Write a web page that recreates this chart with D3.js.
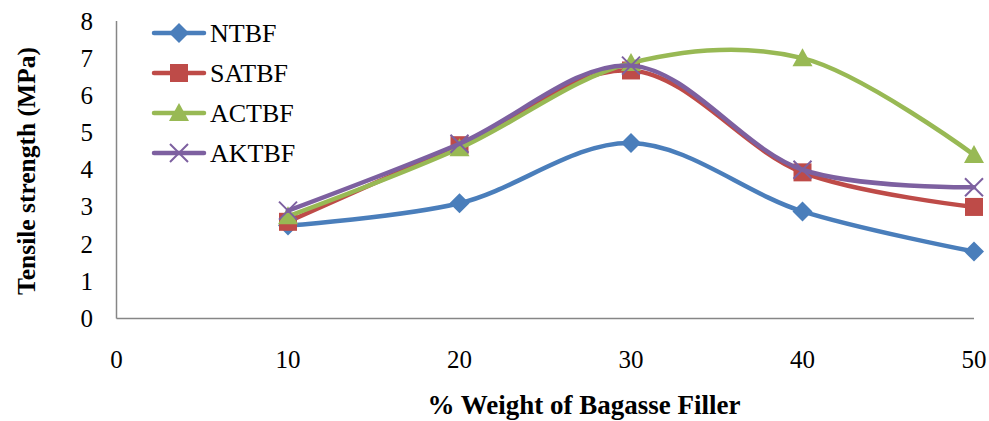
<!DOCTYPE html>
<html>
<head>
<meta charset="utf-8">
<script src="https://cdn.jsdelivr.net/npm/d3@7"></script>
<style>
  body { margin: 0; background: #fff; }
</style>
</head>
<body>
<div id="container"></div>
<script>
var width = 989,
    height = 421;

// data
var weights = [10, 20, 30, 40, 50];
var seriesNames = ["NTBF", "SATBF", "ACTBF", "AKTBF"];
var ntbf = [2.5, 3.1, 4.72, 2.88, 1.8];
var satbf = [2.6, 4.66, 6.67, 3.93, 3.0];
var actbf = [2.75, 4.58, 6.87, 7.0, 4.4];
var aktbf = [2.9, 4.7, 6.8, 4.0, 3.53];
var xTicks = [0, 10, 20, 30, 40, 50];
var yTicks = [0, 1, 2, 3, 4, 5, 6, 7, 8];

var colors = ["#4A7EBB", "#BE4B48", "#98B954", "#7D60A0"];
var markers = ["diamond", "square", "triangle", "cross"];
var allValues = [ntbf, satbf, actbf, aktbf];
var serif = "'Liberation Serif', 'Times New Roman', Times, serif";

var svg = d3.select("#container")
    .append("svg")
    .attr("width", width)
    .attr("height", height)
    .style("font-family", serif);

var x = d3.scaleLinear().domain([0, 50]).range([116.5, 974]);
var y = d3.scaleLinear().domain([0, 8]).range([318.5, 21]);

// axes lines
svg.append("line")
    .attr("x1", x(0)).attr("x2", x(0))
    .attr("y1", y(8)).attr("y2", y(0))
    .attr("stroke", "#868686").attr("stroke-width", 1.5);
svg.append("line")
    .attr("x1", x(0)).attr("x2", x(50))
    .attr("y1", y(0)).attr("y2", y(0))
    .attr("stroke", "#868686").attr("stroke-width", 1.5);

// tick labels
svg.append("g").selectAll("text")
    .data(yTicks).enter().append("text")
    .attr("x", 93)
    .attr("y", function (d) { return y(d) + 8.5; })
    .attr("text-anchor", "end")
    .style("font-family", serif)
    .attr("font-size", "25px")
    .text(function (d) { return d; });

svg.append("g").selectAll("text")
    .data(xTicks).enter().append("text")
    .attr("x", function (d) { return x(d); })
    .attr("y", 368)
    .attr("text-anchor", "middle")
    .style("font-family", serif)
    .attr("font-size", "25px")
    .text(function (d) { return d; });

// axis titles
svg.append("text")
    .attr("transform", "translate(35,171) rotate(-90)")
    .attr("text-anchor", "middle")
    .style("font-family", serif)
    .attr("font-size", "25.5px")
    .attr("font-weight", "bold")
    .text("Tensile strength (MPa)");

svg.append("text")
    .attr("x", 584)
    .attr("y", 414)
    .attr("text-anchor", "middle")
    .style("font-family", serif)
    .attr("font-size", "27px")
    .attr("font-weight", "bold")
    .text("% Weight of Bagasse Filler");

var line = d3.line()
    .x(function (d) { return x(d[0]); })
    .y(function (d) { return y(d[1]); })
    .curve(d3.curveCatmullRom.alpha(0.5));

function drawMarker(g, type, color) {
    if (type === "diamond") {
        g.append("path").attr("d", "M0,-10L10,0L0,10L-10,0Z").attr("fill", color);
    } else if (type === "square") {
        g.append("rect").attr("x", -9).attr("y", -9).attr("width", 18).attr("height", 18).attr("fill", color);
    } else if (type === "triangle") {
        g.append("path").attr("d", "M0,-10L10,8L-10,8Z").attr("fill", color);
    } else {
        g.append("path").attr("d", "M-9,-9L9,9M-9,9L9,-9")
            .attr("stroke", color).attr("stroke-width", 2).attr("fill", "none");
    }
}

var seriesG = svg.append("g");
allValues.forEach(function (vals, i) {
    var pts = weights.map(function (w, j) { return [w, vals[j]]; });
    var g = seriesG.append("g");
    g.append("path")
        .datum(pts)
        .attr("d", line)
        .attr("fill", "none")
        .attr("stroke", colors[i])
        .attr("stroke-width", 4.5)
        .attr("stroke-linecap", "round");
    g.selectAll("g.m")
        .data(pts).enter().append("g")
        .attr("class", "m")
        .attr("transform", function (d) { return "translate(" + x(d[0]) + "," + y(d[1]) + ")"; })
        .each(function () { drawMarker(d3.select(this), markers[i], colors[i]); });
});

// legend
var legend = svg.append("g");
seriesNames.forEach(function (name, i) {
    var ly = 33 + i * 40;
    var lg = legend.append("g");
    lg.append("line")
        .attr("x1", 154).attr("x2", 204)
        .attr("y1", ly).attr("y2", ly)
        .attr("stroke", colors[i]).attr("stroke-width", 4.5)
        .attr("stroke-linecap", "round");
    var mg = lg.append("g").attr("transform", "translate(179," + ly + ")");
    drawMarker(mg, markers[i], colors[i]);
    lg.append("text")
        .attr("x", 210)
        .attr("y", ly + 9)
        .style("font-family", serif)
        .attr("font-size", "26px")
        .text(name);
});
</script>
</body>
</html>
